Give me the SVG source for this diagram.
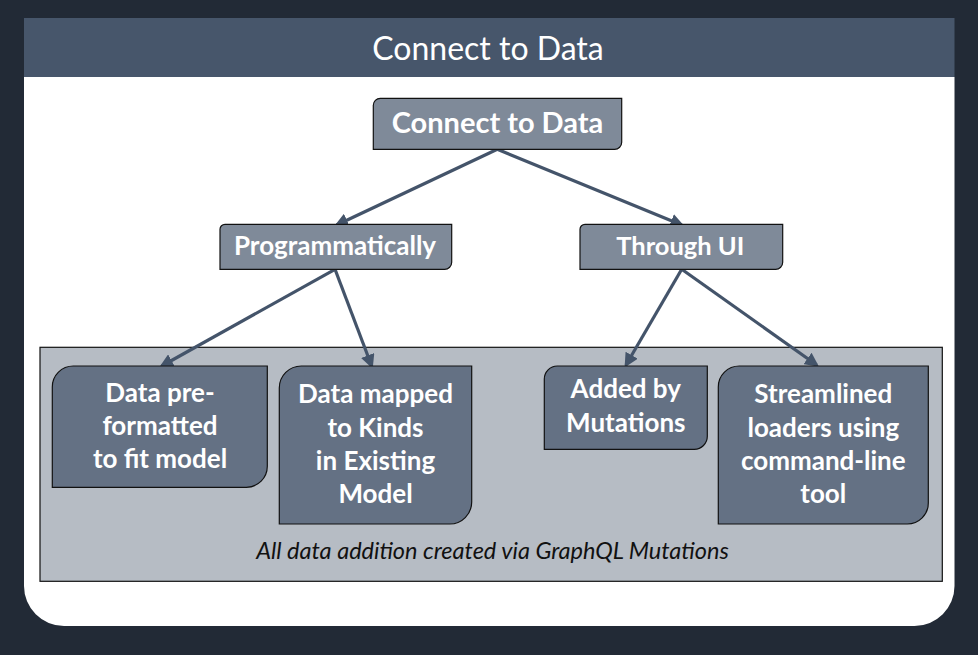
<svg xmlns="http://www.w3.org/2000/svg" width="978" height="655" viewBox="0 0 978 655">
  <defs>
    <marker id="arrow" viewBox="0 0 10 10" refX="8" refY="5" markerWidth="4.4" markerHeight="4.4" orient="auto">
      <path d="M0,0 L10,5 L0,10 z" fill="#44546a"/>
    </marker>
  </defs>
  <style>
    .upper { fill: #7f8a99; stroke: #111111; stroke-width: 1.2; }
    .lower { fill: #647184; stroke: #111111; stroke-width: 1.2; }
    .ntext { font-family: Lato, "Liberation Sans", sans-serif; font-weight: bold; fill: #ffffff; text-anchor: middle; }
    .conn { stroke: #44546a; stroke-width: 3.2; fill: none; marker-end: url(#arrow); }
  </style>
  <rect x="0" y="0" width="978" height="655" fill="#222a36"/>
  <g id="panel">
    <path d="M24,77 H954.5 V586 A40,40 0 0 1 914.5,626 H64 A40,40 0 0 1 24,586 Z" fill="#ffffff"/>
    <rect x="24" y="18" width="930.5" height="59" fill="#47566b"/>
    <text x="488" y="60" font-family="Lato, 'Liberation Sans', sans-serif" font-size="32" fill="#ffffff" text-anchor="middle">Connect to Data</text>
  </g>
  <g id="container">
    <rect x="40" y="347.3" width="902.3" height="234" fill="#b6bcc4" stroke="#111111" stroke-width="1.2"/>
    <text x="492.5" y="559" font-family="Lato, 'Liberation Sans', sans-serif" font-style="italic" font-size="23.5" fill="#111111" text-anchor="middle">All data addition created via GraphQL Mutations</text>
  </g>
  <g id="connectors">
    <line class="conn" x1="497.3" y1="149.3" x2="336.7" y2="225"/>
    <line class="conn" x1="497.3" y1="149.3" x2="681.7" y2="225"/>
    <line class="conn" x1="335" y1="269.3" x2="161.7" y2="366"/>
    <line class="conn" x1="335" y1="269.3" x2="371.7" y2="366"/>
    <line class="conn" x1="681.7" y1="269.3" x2="626" y2="365"/>
    <line class="conn" x1="681.7" y1="269.3" x2="816.7" y2="365"/>
  </g>
  <g id="node-connect">
    <path class="upper" d="M380.3,98.3 H621.7 V142.3 A7,7 0 0 1 614.7,149.3 H373.3 V105.3 A7,7 0 0 1 380.3,98.3 Z"/>
    <text class="ntext" x="497.5" y="133" font-size="29">Connect to Data</text>
  </g>
  <g id="node-programmatically">
    <path class="upper" d="M225,224.3 H451.7 V262.3 A7,7 0 0 1 444.7,269.3 H220 V229.3 A5,5 0 0 1 225,224.3 Z"/>
    <text class="ntext" x="335" y="255" font-size="26">Programmatically</text>
  </g>
  <g id="node-through-ui">
    <path class="upper" d="M585,224.3 H782.7 V262.3 A7,7 0 0 1 775.7,269.3 H580 V229.3 A5,5 0 0 1 585,224.3 Z"/>
    <text class="ntext" x="680.3" y="255" font-size="25.5">Through UI</text>
  </g>
  <g id="node-preformatted">
    <path class="lower" d="M73.3,366 H267.3 V466.3 A21,21 0 0 1 246.3,487.3 H52.3 V387 A21,21 0 0 1 73.3,366 Z"/>
    <text class="ntext" x="160" y="401.7" font-size="26">Data pre-</text>
    <text class="ntext" x="160" y="435" font-size="26">formatted</text>
    <text class="ntext" x="160" y="468.3" font-size="26">to fit model</text>
  </g>
  <g id="node-mapped">
    <path class="lower" d="M301.3,366 H471.7 V502 A22,22 0 0 1 449.7,524 H279.3 V388 A22,22 0 0 1 301.3,366 Z"/>
    <text class="ntext" x="375.5" y="403" font-size="26">Data mapped</text>
    <text class="ntext" x="375.5" y="436.7" font-size="26">to Kinds</text>
    <text class="ntext" x="375.5" y="470" font-size="26">in Existing</text>
    <text class="ntext" x="375.5" y="503.3" font-size="26">Model</text>
  </g>
  <g id="node-mutations">
    <path class="lower" d="M557.3,366 H707.3 V436.3 A13,13 0 0 1 694.3,449.3 H544.3 V379 A13,13 0 0 1 557.3,366 Z"/>
    <text class="ntext" x="625.8" y="398.3" font-size="26">Added by</text>
    <text class="ntext" x="625.8" y="431.7" font-size="26">Mutations</text>
  </g>
  <g id="node-streamlined">
    <path class="lower" d="M739.3,366 H928.3 V503 A21,21 0 0 1 907.3,524 H718.3 V387 A21,21 0 0 1 739.3,366 Z"/>
    <text class="ntext" x="823.3" y="402.7" font-size="26">Streamlined</text>
    <text class="ntext" x="823.3" y="436.7" font-size="26">loaders using</text>
    <text class="ntext" x="823.3" y="470" font-size="26">command-line</text>
    <text class="ntext" x="823.3" y="503.3" font-size="26">tool</text>
  </g>
</svg>
